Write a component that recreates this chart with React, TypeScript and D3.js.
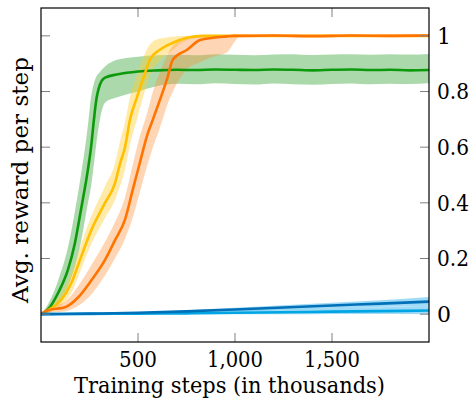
import React from "react";
import * as d3 from "d3";

// values (steps in thousands, reward per step)
const greenSteps = [0, 40, 88, 139, 175, 206, 242, 258, 273, 283, 304, 330, 397, 500, 600, 700, 800, 900, 1000, 1100, 1200, 1300, 1400, 1500, 1600, 1700, 1800, 1900, 2000];
const greenMean = [0, 0.02, 0.076, 0.16, 0.256, 0.375, 0.52, 0.6, 0.7, 0.76, 0.825, 0.85, 0.862, 0.872, 0.876, 0.878, 0.877, 0.879, 0.878, 0.877, 0.879, 0.878, 0.876, 0.878, 0.879, 0.877, 0.878, 0.876, 0.877];
const greenHi = [0, 0.04, 0.12, 0.24, 0.37, 0.5, 0.68, 0.78, 0.83, 0.85, 0.87, 0.89, 0.915, 0.925, 0.93, 0.932, 0.93, 0.934, 0.932, 0.93, 0.933, 0.934, 0.931, 0.933, 0.934, 0.932, 0.934, 0.933, 0.935];
const greenLo = [0, 0.005, 0.04, 0.1, 0.17, 0.26, 0.4, 0.46, 0.54, 0.6, 0.7, 0.76, 0.78, 0.8, 0.82, 0.828, 0.826, 0.83, 0.827, 0.825, 0.829, 0.826, 0.824, 0.827, 0.829, 0.826, 0.828, 0.827, 0.83];

const yellowSteps = [0, 36, 103, 155, 206, 258, 330, 381, 407, 433, 459, 495, 526, 562, 613, 680, 753, 835, 900, 1000, 1500, 2000];
const yellowMean = [0, 0.014, 0.05, 0.11, 0.205, 0.3, 0.4, 0.47, 0.54, 0.6, 0.7, 0.78, 0.845, 0.915, 0.95, 0.975, 0.993, 1.0, 1.0, 1.0, 1.0, 1.0];
const yellowHi = [0, 0.025, 0.075, 0.15, 0.25, 0.35, 0.46, 0.54, 0.62, 0.69, 0.78, 0.86, 0.92, 0.97, 0.99, 0.997, 1.0, 1.0, 1.0, 1.0, 1.0, 1.0];
const yellowLo = [0, 0.005, 0.03, 0.075, 0.16, 0.25, 0.345, 0.41, 0.46, 0.52, 0.61, 0.7, 0.78, 0.86, 0.91, 0.95, 0.985, 0.995, 1.0, 1.0, 1.0, 1.0];

const orangeSteps = [0, 36, 124, 191, 258, 330, 381, 433, 474, 510, 546, 577, 613, 650, 680, 753, 820, 887, 958, 990, 1030, 1200, 1400, 1600, 1800, 2000];
const orangeMean = [0, 0.014, 0.025, 0.06, 0.12, 0.195, 0.265, 0.34, 0.45, 0.545, 0.64, 0.7, 0.77, 0.845, 0.915, 0.95, 0.985, 0.993, 0.998, 1.0, 1.0, 1.001, 0.999, 1.001, 1.0, 1.001];
const orangeHi = [0, 0.025, 0.045, 0.1, 0.175, 0.26, 0.33, 0.42, 0.54, 0.64, 0.72, 0.8, 0.87, 0.93, 0.965, 0.99, 1.0, 1.0, 1.0, 1.0, 1.0, 1.003, 1.002, 1.003, 1.002, 1.003];
const orangeLo = [0, 0.005, 0.01, 0.03, 0.07, 0.14, 0.2, 0.27, 0.35, 0.44, 0.53, 0.6, 0.67, 0.75, 0.8, 0.88, 0.905, 0.925, 0.94, 0.97, 1.0, 0.998, 0.997, 0.998, 0.997, 0.998];

const blueSteps = [0, 250, 500, 750, 1000, 1250, 1500, 1750, 2000];
const darkBlueMean = [0, 0.002, 0.005, 0.01, 0.017, 0.024, 0.031, 0.038, 0.045];
const darkBlueHi = [0, 0.003, 0.007, 0.014, 0.023, 0.032, 0.041, 0.05, 0.062];
const darkBlueLo = [0, 0.001, 0.003, 0.006, 0.011, 0.016, 0.021, 0.026, 0.03];
const lightBlueMean = [0, 0.001, 0.002, 0.003, 0.005, 0.007, 0.009, 0.011, 0.013];
const lightBlueHi = [0, 0.003, 0.006, 0.009, 0.013, 0.017, 0.021, 0.025, 0.03];
const lightBlueLo = [0, 0, 0, 0, 0, 0, 0.001, 0.001, 0.0];

const xTicks = [500, 1000, 1500];
const yTicks = [0, 0.2, 0.4, 0.6, 0.8, 1];

const W = 473;
const H = 406;
const plot = { left: 41, right: 429, top: 8, bottom: 342 };

const x = d3.scaleLinear().domain([0, 2000]).range([plot.left, plot.right]);
const y = d3.scaleLinear().domain([-0.1, 1.1]).range([plot.bottom, plot.top]);

const series = [
  { steps: greenSteps, mean: greenMean, hi: greenHi, lo: greenLo, line: "#0c9a0c", band: "#2ca02c", op: 0.4 },
  { steps: yellowSteps, mean: yellowMean, hi: yellowHi, lo: yellowLo, line: "#ffc000", band: "#ffcc33", op: 0.42 },
  { steps: orangeSteps, mean: orangeMean, hi: orangeHi, lo: orangeLo, line: "#ff7400", band: "#ff8c32", op: 0.36 },
  { steps: blueSteps, mean: lightBlueMean, hi: lightBlueHi, lo: lightBlueLo, line: "#00a6e4", band: "#3fb8ef", op: 0.5 },
  { steps: blueSteps, mean: darkBlueMean, hi: darkBlueHi, lo: darkBlueLo, line: "#0070b8", band: "#3fb8ef", op: 0.5 },
];

const font = "DejaVu Serif, serif";
const fmt = d3.format(",");

export default function App() {
  const line = d3.line<[number, number]>().curve(d3.curveMonotoneX);

  return (
    <svg width={W} height={H} style={{ position: "absolute", left: 0, top: 0, background: "#fff" }}>
      <defs>
        <clipPath id="plotclip">
          <rect x={plot.left} y={plot.top} width={plot.right - plot.left} height={plot.bottom - plot.top} />
        </clipPath>
      </defs>
      <g clipPath="url(#plotclip)">
        {series.map((s, i) => {
          const bandPath = d3
            .area<number>()
            .x((_, j) => x(s.steps[j]))
            .y0((_, j) => y(s.lo[j]))
            .y1((_, j) => y(s.hi[j]))
            .curve(d3.curveMonotoneX)(s.steps);
          return <path key={"b" + i} d={bandPath || ""} fill={s.band} fillOpacity={s.op} stroke="none" />;
        })}
        {series.map((s, i) => (
          <path
            key={"l" + i}
            d={line(s.steps.map((st, j) => [x(st), y(s.mean[j])] as [number, number])) || ""}
            fill="none"
            stroke={s.line}
            strokeWidth={2.6}
            strokeLinejoin="round"
          />
        ))}
      </g>
      {/* ticks on all four sides, pointing inward */}
      {xTicks.map((t) => (
        <g key={"xt" + t} stroke="#808080" strokeWidth={1}>
          <line x1={x(t)} x2={x(t)} y1={plot.bottom} y2={plot.bottom - 9} />
          <line x1={x(t)} x2={x(t)} y1={plot.top} y2={plot.top + 9} />
        </g>
      ))}
      {yTicks.map((t) => (
        <g key={"yt" + t} stroke="#808080" strokeWidth={1}>
          <line x1={plot.left} x2={plot.left + 9} y1={y(t)} y2={y(t)} />
          <line x1={plot.right} x2={plot.right - 9} y1={y(t)} y2={y(t)} />
        </g>
      ))}
      <rect
        x={plot.left}
        y={plot.top}
        width={plot.right - plot.left}
        height={plot.bottom - plot.top}
        fill="none"
        stroke="#000"
        strokeWidth={1.2}
      />
      {xTicks.map((t) => (
        <text
          key={"xl" + t}
          x={x(t)}
          y={367}
          textAnchor="middle"
          fontFamily={font}
          fontSize={22}
          textLength={fmt(t).length > 3 ? 56 : 38}
          lengthAdjust="spacingAndGlyphs"
          fill="#000"
        >
          {fmt(t)}
        </text>
      ))}
      {yTicks.map((t) => {
        const label = d3.format("")(t);
        return (
          <text
            key={"yl" + t}
            x={437}
            y={y(t)}
            dy="0.36em"
            textAnchor="start"
            fontFamily={font}
            fontSize={22}
            textLength={label.length > 1 ? 32 : undefined}
            lengthAdjust="spacingAndGlyphs"
            fill="#000"
          >
            {label}
          </text>
        );
      })}
      <text
        x={(74 + 385) / 2}
        y={393}
        textAnchor="middle"
        fontFamily={font}
        fontSize={23}
        textLength={311}
        lengthAdjust="spacingAndGlyphs"
        fill="#000"
      >
        Training steps (in thousands)
      </text>
      <text
        transform={`translate(28,${(57 + 303) / 2}) rotate(-90)`}
        textAnchor="middle"
        fontFamily={font}
        fontSize={23}
        textLength={246}
        lengthAdjust="spacingAndGlyphs"
        fill="#000"
      >
        Avg. reward per step
      </text>
    </svg>
  );
}
